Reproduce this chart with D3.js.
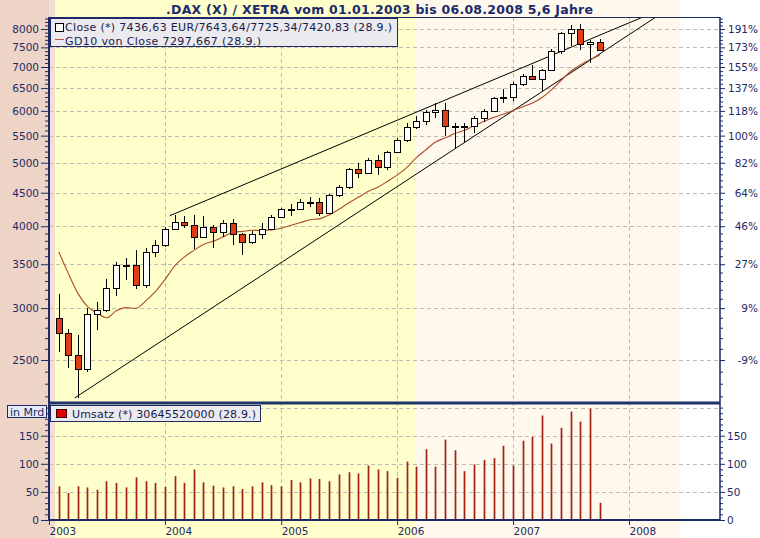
<!DOCTYPE html>
<html><head><meta charset="utf-8">
<script src="https://cdn.jsdelivr.net/npm/d3@7"></script>
<style>
html,body{margin:0;padding:0;background:#fff;}
svg{display:block;font-family:"DejaVu Sans",Verdana,sans-serif;}
</style></head><body>
<svg id="c" width="760" height="538"></svg>
<script>
// ---------------- DATA ----------------
const months = [
"2003-01","2003-02","2003-03","2003-04","2003-05","2003-06","2003-07","2003-08","2003-09","2003-10","2003-11","2003-12",
"2004-01","2004-02","2004-03","2004-04","2004-05","2004-06","2004-07","2004-08","2004-09","2004-10","2004-11","2004-12",
"2005-01","2005-02","2005-03","2005-04","2005-05","2005-06","2005-07","2005-08","2005-09","2005-10","2005-11","2005-12",
"2006-01","2006-02","2006-03","2006-04","2006-05","2006-06","2006-07","2006-08","2006-09","2006-10","2006-11","2006-12",
"2007-01","2007-02","2007-03","2007-04","2007-05","2007-06","2007-07","2007-08","2007-09"];
const openP = [
2893,2748,2547,2424,2942,2983,3221,3488,3485,3257,3656,3746,
3965,4059,4018,3857,3985,3921,4053,3896,3785,3893,3960,4126,
4256,4255,4351,4349,4185,4461,4586,4887,4830,5044,4929,5193,
5408,5674,5796,5970,6010,5693,5683,5682,5860,6004,6269,6309,
6597,6789,6715,6917,7409,7883,8007,7584,7643.64];
const highP = [
3155,2790,2730,3000,3070,3320,3530,3575,3680,3700,3810,3990,
4165,4150,4165,4150,4015,4085,4110,3900,3930,4050,4160,4270,
4330,4400,4440,4410,4480,4620,4910,4990,5080,5140,5210,5460,
5750,5900,6020,6160,6165,5750,5740,5900,6050,6310,6470,6630,
6830,7040,6950,7460,7930,8100,8150,7700,7725.34];
const lowP = [
2570,2430,2188,2400,2780,2960,3130,3310,3210,3225,3590,3720,
3950,3970,3690,3850,3700,3850,3750,3620,3760,3830,3950,4120,
4150,4250,4280,4150,4180,4440,4560,4740,4800,4790,4880,5180,
5380,5620,5710,5850,5500,5240,5370,5560,5760,5990,6170,6220,
6540,6680,6440,6900,7340,7540,7420,7100,7420.83];
const closeP = [
2748,2547,2424,2942,2983,3221,3488,3485,3257,3656,3746,3965,
4059,4018,3857,3985,3921,4053,3896,3785,3893,3960,4126,4256,
4255,4351,4349,4185,4461,4586,4887,4830,5044,4929,5193,5408,
5674,5796,5970,6010,5693,5683,5682,5860,6004,6269,6309,6597,
6789,6715,6917,7409,7883,8007,7584,7638,7436.63];
const gd10 = [
3653.8,3404.4,3165.0,3020.9,2949.2,2900.0,2971.9,3005.1,2998.8,3075.1,3174.9,3316.7,
3480.2,3587.8,3675.2,3751.6,3794.9,3851.7,3915.6,3928.5,3943.2,3942.7,3949.4,3973.2,
4013.0,4049.6,4092.4,4105.6,4162.1,4242.2,4341.6,4428.6,4520.4,4587.7,4681.5,4787.2,
4919.7,5080.8,5231.7,5374.1,5454.7,5540.0,5603.8,5696.9,5778.0,5864.1,5927.6,6007.7,
6089.6,6160.1,6282.5,6455.1,6675.2,6889.9,7047.9,7184.8,7297.7];
const volumeMrd = [
60,48,60,58,54,69,66,58,76,69,66,59,
78,66,90,67,61,58,60,55,60,67,62,60,
71,67,74,73,69,81,85,83,97,90,87,75,
104,95,126,95,143,124,87,99,107,110,132,97,
141,148,186,136,164,193,175,198,30.6];

const priceTicks = [2500,3000,3500,4000,4500,5000,5500,6000,6500,7000,7500,8000];
const pctLabels  = ["-9%","9%","27%","46%","64%","82%","100%","118%","137%","155%","173%","191%"];
const volTicks = [0,50,100,150];
const yearLabels = ["2003","2004","2005","2006","2007","2008"];
// trend channel anchors (date, price)
const trendStartDates = ["2004-01-16","2003-03-23"];
const trendStartPrices = [4150,2188];
const trendEndDates = ["2008-02-14","2008-03-26"];
const trendEndPrices = [8345,8345];
// background band edges (dates)
const bandEdges = ["2003-01-20","2006-02-26","2008-06-10"];

const titleText = ".DAX (X) / XETRA vom 01.01.2003 bis 06.08.2008 5,6 Jahre";
const legend1 = "Close (*) 7436,63 EUR/7643,64/7725,34/7420,83 (28.9.)";
const legend2 = "GD10 von Close 7297,667 (28.9.)";
const legend3 = "Umsatz (*) 30645520000 (28.9.)";
const unitLabel = "in Mrd";

// ---------------- LAYOUT ----------------
const X0 = 49, X1 = 720, PT = 17, PB = 403, VB = 520;
const NAVY = "#1E2A66";
const FONT = "'DejaVu Sans', Verdana, sans-serif";
const pd = s => { const [a,b,c] = s.split("-").map(Number); return new Date(a, b-1, c); };

const x = d3.scaleTime().domain([new Date(2003,0,1), new Date(2008,0,1)]).range([49, 629]);
const y = d3.scaleLog().domain([2500, 8000]).range([360, 29]);
const yv = d3.scaleLinear().domain([0, 150]).range([520, 435.7]);

const data = months.map((m,i) => {
  const yr = +m.slice(0,4), mo = +m.slice(5,7);
  return {date: new Date(yr, mo, 1), o: openP[i], h: highP[i], l: lowP[i], c: closeP[i], v: volumeMrd[i], ma: gd10[i]};
});

const svg = d3.select("#c");

// ---------------- BACKGROUND ----------------
const e = bandEdges.map(d => x(pd(d)));
svg.append("rect").attr("x",0).attr("y",0).attr("width",760).attr("height",538).attr("fill","#FFFFFF");
svg.append("rect").attr("x",0).attr("y",0).attr("width",X0).attr("height",538).attr("fill","#EDD4C6");
svg.append("rect").attr("x",X0).attr("y",0).attr("width",e[0]-X0).attr("height",538).attr("fill","#F3DED3");
svg.append("rect").attr("x",e[0]).attr("y",0).attr("width",e[1]-e[0]).attr("height",538).attr("fill","#FFFFCC");
svg.append("rect").attr("x",e[1]).attr("y",0).attr("width",e[2]-e[1]).attr("height",538).attr("fill","#FFF8EC");

// ---------------- GRID ----------------
const grid = svg.append("g").attr("stroke","#BDBDB5").attr("stroke-dasharray","4,3").attr("stroke-width",1);
priceTicks.forEach(t => {
  const yy = Math.round(y(t)) + 0.5;
  grid.append("line").attr("x1",X0).attr("x2",X1).attr("y1",yy).attr("y2",yy);
});
[50,100,150,200].forEach(t => {
  const yy = Math.round(yv(t)) + 0.5;
  grid.append("line").attr("x1",X0).attr("x2",X1).attr("y1",yy).attr("y2",yy);
});
yearLabels.slice(1).forEach(yl => {
  const xx = Math.round(x(new Date(+yl,0,1))) + 0.5;
  grid.append("line").attr("x1",xx).attr("x2",xx).attr("y1",PT).attr("y2",VB);
});

// ---------------- VOLUME ----------------
svg.append("g").selectAll("line").data(data).join("line")
  .attr("x1", d => Math.round(x(d.date)) + 0.5).attr("x2", d => Math.round(x(d.date)) + 0.5)
  .attr("y1", yv(0)).attr("y2", d => yv(d.v))
  .attr("stroke","#9E2218").attr("stroke-width",1.7);

// ---------------- PRICE PANEL ----------------
svg.append("clipPath").attr("id","pclip").append("rect")
  .attr("x",X0).attr("y",PT).attr("width",X1-X0).attr("height",PB-PT);
const pg = svg.append("g").attr("clip-path","url(#pclip)");

// trend lines
trendStartDates.forEach((sd,i) => {
  pg.append("line")
    .attr("x1", x(pd(sd))).attr("y1", y(trendStartPrices[i]))
    .attr("x2", x(pd(trendEndDates[i]))).attr("y2", y(trendEndPrices[i]))
    .attr("stroke","#000").attr("stroke-width",1);
});

// moving average
pg.append("path").datum(data)
  .attr("d", d3.line().x(d => x(d.date)).y(d => y(d.ma)).curve(d3.curveMonotoneX))
  .attr("fill","none").attr("stroke","#B04A2C").attr("stroke-width",1.1);

// candles
const cg = pg.append("g").attr("shape-rendering","crispEdges");
data.forEach(d => {
  const cx = Math.round(x(d.date));
  cg.append("line").attr("x1",cx+0.5).attr("x2",cx+0.5).attr("y1",y(d.h)).attr("y2",y(d.l))
    .attr("stroke","#000").attr("stroke-width",1);
  const top = Math.round(y(Math.max(d.o,d.c))), bot = Math.round(y(Math.min(d.o,d.c)));
  cg.append("rect").attr("x",cx-3+0.5).attr("y",top+0.5)
    .attr("width",6).attr("height",Math.max(1,bot-top))
    .attr("fill", d.c >= d.o ? "#FFFFFF" : "#DE3D18")
    .attr("stroke","#000").attr("stroke-width",1);
});

// ---------------- AXES ----------------
function styleAxis(g, size){
  g.select(".domain").remove();
  g.attr("font-family", FONT).attr("font-size", size || 10.5);
  g.selectAll("line").attr("stroke", NAVY);
  g.selectAll("text").attr("fill", NAVY);
  return g;
}
const minorPrice = d3.range(2200, 8400, 100).filter(v => priceTicks.indexOf(v) < 0 && y(v) > PT && y(v) < PB);
const minorVol = d3.range(10, 210, 10).filter(v => volTicks.indexOf(v) < 0);

// left price
styleAxis(svg.append("g").attr("transform",`translate(${X0},0)`)
  .call(d3.axisLeft(y).tickValues(priceTicks).tickSize(8).tickPadding(2).tickFormat(d3.format("d"))));
styleAxis(svg.append("g").attr("transform",`translate(${X0},0)`)
  .call(d3.axisLeft(y).tickValues(minorPrice).tickSize(4).tickFormat("")));
// right percent
const rp = styleAxis(svg.append("g").attr("transform",`translate(${X1},0)`)
  .call(d3.axisRight(y).tickValues(priceTicks).tickSize(5).tickFormat((d,i) => pctLabels[i])));
rp.selectAll("text").attr("text-anchor","end").attr("x", 38);
styleAxis(svg.append("g").attr("transform",`translate(${X1},0)`)
  .call(d3.axisRight(y).tickValues(minorPrice).tickSize(3).tickFormat("")));
// volume axes
styleAxis(svg.append("g").attr("transform",`translate(${X0},0)`)
  .call(d3.axisLeft(yv).tickValues(volTicks).tickSize(8).tickPadding(2)));
styleAxis(svg.append("g").attr("transform",`translate(${X0},0)`)
  .call(d3.axisLeft(yv).tickValues(minorVol).tickSize(4).tickFormat("")));
styleAxis(svg.append("g").attr("transform",`translate(${X1},0)`)
  .call(d3.axisRight(yv).tickValues(volTicks).tickSize(5).tickPadding(2)));
styleAxis(svg.append("g").attr("transform",`translate(${X1},0)`)
  .call(d3.axisRight(yv).tickValues(minorVol).tickSize(3).tickFormat("")));
// bottom years
const bx = styleAxis(svg.append("g").attr("transform",`translate(0,${VB})`)
  .call(d3.axisBottom(x).tickValues(yearLabels.map(s => new Date(+s,0,1))).tickSize(5)
    .tickFormat((d,i) => yearLabels[i])));
bx.selectAll("text").attr("text-anchor","start").attr("x",0).attr("y",15).attr("dy",0);

// frame lines
svg.append("line").attr("x1",X0).attr("x2",X0).attr("y1",PT).attr("y2",VB+1).attr("stroke",NAVY).attr("stroke-width",2);
svg.append("line").attr("x1",X0-1).attr("x2",X1).attr("y1",VB).attr("y2",VB).attr("stroke",NAVY).attr("stroke-width",2);
svg.append("line").attr("x1",X1).attr("x2",X1).attr("y1",PT).attr("y2",VB).attr("stroke",NAVY).attr("stroke-width",1.5);
svg.append("line").attr("x1",X0).attr("x2",X1).attr("y1",PT+0.5).attr("y2",PT+0.5).attr("stroke",NAVY).attr("stroke-width",1);
svg.append("line").attr("x1",X0-1).attr("x2",X1).attr("y1",PB).attr("y2",PB).attr("stroke","#1F3468").attr("stroke-width",3);

// ---------------- LEGENDS ----------------
svg.append("rect").attr("x",50.5).attr("y",18.5).attr("width",347).attr("height",28)
  .attr("fill","#EAEAEF").attr("stroke",NAVY).attr("stroke-width",1);
svg.append("rect").attr("x",55.5).attr("y",23.5).attr("width",8).attr("height",8)
  .attr("fill","#fff").attr("stroke","#000");
svg.append("line").attr("x1",55).attr("x2",64).attr("y1",39.5).attr("y2",39.5)
  .attr("stroke","#C0504A").attr("stroke-width",1);
svg.append("text").attr("x",65).attr("y",31).attr("font-family",FONT).attr("font-size",11)
  .attr("fill","#1A1A4A").attr("textLength",327).attr("lengthAdjust","spacing").text(legend1);
svg.append("text").attr("x",65).attr("y",44.5).attr("font-family",FONT).attr("font-size",11)
  .attr("fill","#1A1A4A").attr("textLength",196).attr("lengthAdjust","spacing").text(legend2);

svg.append("rect").attr("x",50.5).attr("y",405.5).attr("width",210).attr("height",16)
  .attr("fill","#EAEAEF").attr("stroke",NAVY).attr("stroke-width",1);
svg.append("rect").attr("x",56.5).attr("y",409.5).attr("width",10).attr("height",8)
  .attr("fill","#E00000").attr("stroke","#400").attr("stroke-width",1);
svg.append("text").attr("x",72).attr("y",418).attr("font-family",FONT).attr("font-size",11)
  .attr("fill","#1A1A4A").attr("textLength",184).attr("lengthAdjust","spacing").text(legend3);

svg.append("rect").attr("x",7.5).attr("y",405.5).attr("width",39).attr("height",12)
  .attr("fill","#E4EAF6").attr("stroke",NAVY).attr("stroke-width",1);
svg.append("text").attr("x",10).attr("y",415.5).attr("font-family",FONT).attr("font-size",11)
  .attr("fill",NAVY).text(unitLabel);

// ---------------- TITLE ----------------
svg.append("text").attr("x",379.5).attr("y",13.5).attr("text-anchor","middle")
  .attr("font-family",FONT).attr("font-weight","bold").attr("font-size",12.5)
  .attr("fill","#1B2B6B").attr("textLength",427).attr("lengthAdjust","spacing").text(titleText);
</script>
</body></html>
